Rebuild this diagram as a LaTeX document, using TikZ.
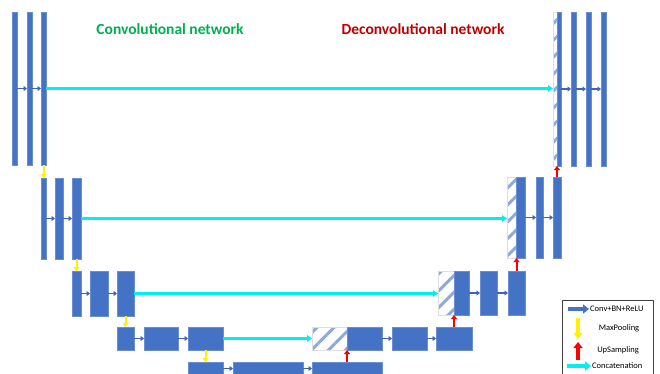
\documentclass[tikz,border=0pt]{standalone}
\usepackage{fontspec}
\setmainfont{Carlito}
\usetikzlibrary{arrows.meta,patterns.meta}
\definecolor{barblue}{HTML}{4472C4}
\definecolor{baredge}{HTML}{6A8ED0}
\definecolor{arrblue}{HTML}{3C66B4}
\definecolor{hatchblue}{HTML}{8FA9DC}
\definecolor{tgreen}{HTML}{00B050}
\definecolor{tred}{HTML}{C00000}
\definecolor{cyanc}{HTML}{00F0F0}
\definecolor{ylw}{HTML}{FFF200}
\tikzset{
  bar/.style={fill=barblue, draw=baredge, line width=0.4pt, inner sep=0pt, outer sep=0pt},
  hatch/.style={draw=gray!25, line width=0.4pt, inner sep=0pt, outer sep=0pt,
    pattern={Lines[angle=45,distance=12pt,line width=3pt]}, pattern color=hatchblue},
  conv/.style={draw=arrblue, line width=1.7pt, -{Triangle[length=3.5pt,width=5pt]}},
  concat/.style={draw=cyanc, line width=2.6pt, -{Triangle[length=5pt,width=6.5pt]}},
  pool/.style={draw=ylw, line width=2pt, -{Triangle[length=4pt,width=6pt]}},
  upsm/.style={draw=red, line width=2pt, -{Triangle[length=4pt,width=6pt]}},
  ttl/.style={font=\fontsize{15.5}{18}\selectfont\bfseries, inner sep=0pt},
  leg/.style={font=\fontsize{8.5}{9}\selectfont, inner sep=0pt},
  legarr/.style={line width=4pt, -{Triangle[length=6pt,width=9pt]}},
}
\newcommand\ubar[6]{\node[#6, minimum width={(#4-#2)*1pt}, minimum height={(#5-#3)*1pt}] (#1) at ({(#2+#4)/2},{(#3+#5)/2}) {};}
\begin{document}
\begin{tikzpicture}[x=1pt,y=-1pt]
\useasboundingbox (0,0) rectangle (660,373);
\clip (0,0) rectangle (660,373);
% titles
\node[ttl, text=tgreen] (t1) at (170,29) {Convolutional network};
\node[ttl, text=tred] (t2) at (423,29) {Deconvolutional network};
% level 1
\ubar{A1}{12}{12}{17}{165}{bar}
\ubar{A2}{27}{12}{32}{165}{bar}
\ubar{A3}{41}{12}{46}{165}{bar}
\ubar{H1}{553}{12}{557}{166}{hatch}
\ubar{B1}{557}{12}{561}{166}{bar}
\ubar{B2}{571}{12}{576}{166}{bar}
\ubar{B3}{586}{12}{591}{166}{bar}
\ubar{B4}{601}{12}{606}{166}{bar}
% level 2
\ubar{C1}{41}{178}{46}{259}{bar}
\ubar{C2}{55}{178}{63}{259}{bar}
\ubar{C3}{72}{178}{81}{259}{bar}
\ubar{H2}{507}{177}{516}{258}{hatch}
\ubar{D1}{516}{177}{525}{258}{bar}
\ubar{D2}{536}{177}{543}{258}{bar}
\ubar{D3}{553}{177}{561}{258}{bar}
% level 3
\ubar{E1}{72}{271}{81}{316}{bar}
\ubar{E2}{90}{271}{108}{316}{bar}
\ubar{E3}{117}{271}{134}{316}{bar}
\ubar{H3}{438}{271}{454}{315}{hatch}
\ubar{F1}{454}{271}{469}{315}{bar}
\ubar{F2}{480}{271}{497}{315}{bar}
\ubar{F3}{508}{271}{525}{315}{bar}
% level 4
\ubar{G1}{117}{327}{134}{350}{bar}
\ubar{G2}{144}{327}{178}{350}{bar}
\ubar{G3}{188}{327}{223}{350}{bar}
\ubar{H4}{312}{327}{347}{350}{hatch}
\ubar{K1}{347}{327}{382}{350}{bar}
\ubar{K2}{392}{327}{427}{350}{bar}
\ubar{K3}{436}{327}{472}{350}{bar}
% level 5
\ubar{M1}{188}{362}{223}{375}{bar}
\ubar{M2}{233}{362}{303}{375}{bar}
\ubar{M3}{312}{362}{382}{375}{bar}
% conv arrows
\draw[conv] (A1) -- (A2);
\draw[conv] (A2) -- (A3);
\draw[conv] (B1) -- (B2);
\draw[conv] (B2) -- (B3);
\draw[conv] (B3) -- (B4);
\draw[conv] (C1) -- (C2);
\draw[conv] (C2) -- (C3);
\draw[conv] (D1) -- (D2);
\draw[conv] (D2) -- (D3);
\draw[conv] (E1) -- (E2);
\draw[conv] (E2) -- (E3);
\draw[conv] (F1) -- (F2);
\draw[conv] (F2) -- (F3);
\draw[conv] (G1) -- (G2);
\draw[conv] (G2) -- (G3);
\draw[conv] (K1) -- (K2);
\draw[conv] (K2) -- (K3);
\draw[conv] (M1) -- (M2);
\draw[conv] (M2) -- (M3);
% concatenations
\draw[concat] (A3.east) -- (A3.east -| H1.west);
\draw[concat] (C3.east) -- (C3.east -| H2.west);
\draw[concat] (E3.east) -- (E3.east -| H3.west);
\draw[concat] (G3.east) -- (G3.east -| H4.west);
% pooling
\draw[pool] (A3.south) -- (C1.north);
\draw[pool] (C3.south) -- (E1.north);
\draw[pool] (E3.south) -- (G1.north);
\draw[pool] (G3.south) -- (M1.north);
% upsampling
\draw[upsm] (M3.north) -- (M3.north |- H4.south);
\draw[upsm] (K3.north) -- (K3.north |- H3.south);
\draw[upsm] (F3.north) -- (F3.north |- H2.south);
\draw[upsm] (D3.north) -- (D3.north |- H1.south);
% legend
\node[draw=black!75, line width=0.6pt, minimum width=91pt, minimum height=85pt, inner sep=0pt] (legbox) at (607.5,342.5) {};
\coordinate (l1a) at (568,309); \coordinate (l1b) at (589,309);
\draw[legarr, barblue] (l1a) -- (l1b);
\node[leg, anchor=west] (l1t) at (590,309) {Conv+BN+ReLU};
\coordinate (l2a) at (578,318); \coordinate (l2b) at (578,339);
\draw[legarr, ylw] (l2a) -- (l2b);
\node[leg] (l2t) at (619,328) {MaxPooling};
\coordinate (l3a) at (578,360); \coordinate (l3b) at (578,342);
\draw[legarr, red] (l3a) -- (l3b);
\node[leg] (l3t) at (618,350) {UpSampling};
\coordinate (l4a) at (567,366); \coordinate (l4b) at (591,366);
\draw[legarr, cyanc] (l4a) -- (l4b);
\node[leg, anchor=west] (l4t) at (592,366) {Concatenation};
\end{tikzpicture}
\end{document}
